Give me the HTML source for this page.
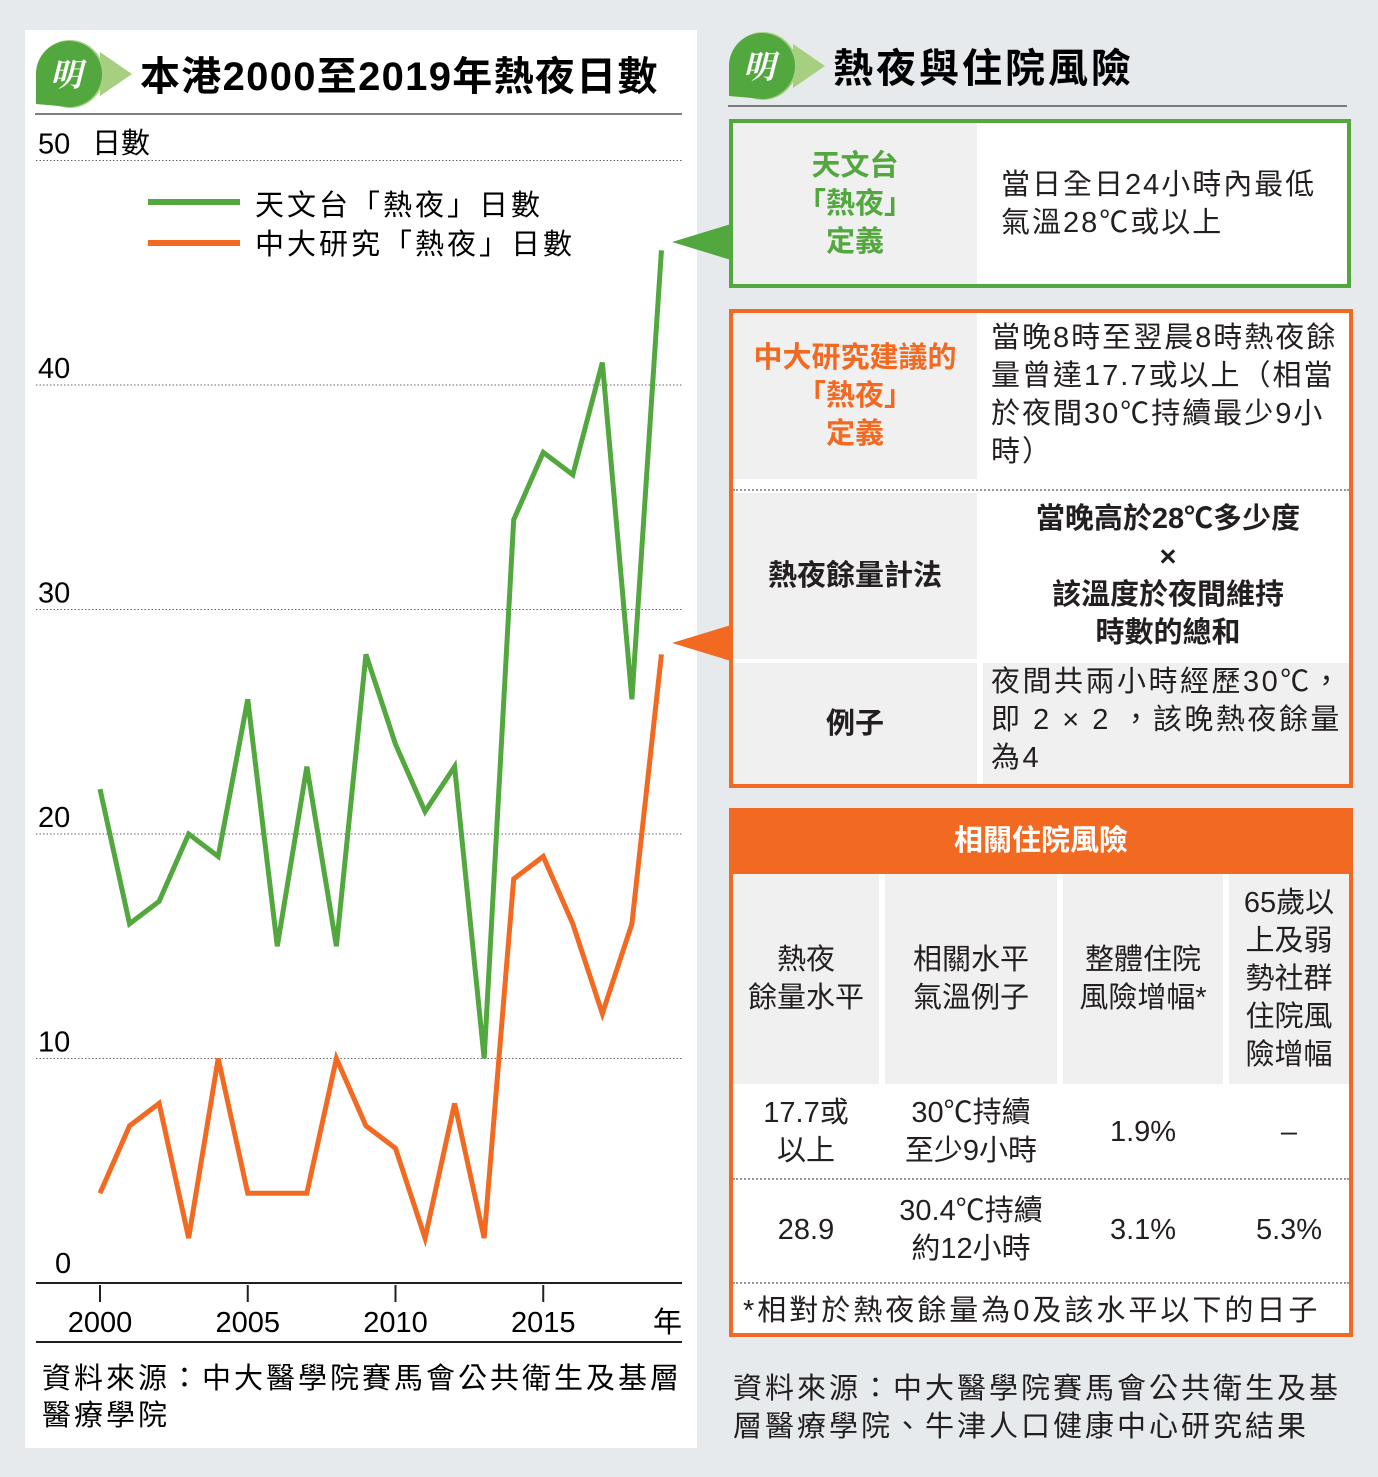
<!DOCTYPE html>
<html><head><meta charset="utf-8"><style>
body{margin:0;width:1378px;height:1477px;background:#e6eaed;font-family:"Liberation Sans","Noto Sans CJK TC",sans-serif;position:relative;overflow:hidden;color:#231f20}
.abs{position:absolute}
.c{display:flex;align-items:center;justify-content:center;text-align:center;position:absolute;box-sizing:border-box}
.t{font-size:29px;line-height:38px}
.b{font-weight:bold}
</style></head><body>
<div class="abs" style="left:25px;top:30px;width:672px;height:1418px;background:#fff"></div>
<svg class="abs" style="left:0;top:0" width="1378" height="1477">
 <g>
  <path d="M100,52 L132,74 L100,96Z" fill="#a6d07f"/>
  <circle cx="70" cy="74" r="34" fill="#a6d07f"/>
  <path d="M36,74 A33,33 0 1 1 70,107 L36,104Z" fill="#52a83e"/>
  <text x="66" y="86" font-size="32" fill="#fff" font-weight="bold" text-anchor="middle" font-family="Noto Serif CJK SC,serif" font-style="italic">明</text>
 </g>
 <g>
  <path d="M793,44 L825,66 L793,88Z" fill="#a6d07f"/>
  <circle cx="763" cy="66" r="34" fill="#a6d07f"/>
  <path d="M729,66 A33,33 0 1 1 763,99 L729,96Z" fill="#52a83e"/>
  <text x="759" y="78" font-size="32" fill="#fff" font-weight="bold" text-anchor="middle" font-family="Noto Serif CJK SC,serif" font-style="italic">明</text>
 </g>
 <text x="140" y="90" font-size="40" font-weight="bold" letter-spacing="1.3">本港2000至2019年熱夜日數</text>
 <text x="833" y="82" font-size="40" font-weight="bold" letter-spacing="3">熱夜與住院風險</text>
 <line x1="35" y1="114" x2="682" y2="114" stroke="#555" stroke-width="1.5"/>
 <line x1="728" y1="106" x2="1347" y2="106" stroke="#555" stroke-width="1.5"/>
 <g id="grid"></g><g id="series"></g>
 <line x1="36" y1="1283" x2="682" y2="1283" stroke="#231f20" stroke-width="2"/>
 <line x1="36" y1="1342" x2="682" y2="1342" stroke="#231f20" stroke-width="2"/>
 <text x="653" y="1332" font-size="29">年</text>
 <text x="92" y="153" font-size="29">日數</text>
 <line x1="148" y1="202" x2="240" y2="202" stroke="#52a83e" stroke-width="6"/>
 <text x="255" y="215" font-size="29" letter-spacing="3">天文台「熱夜」日數</text>
 <line x1="148" y1="243" x2="240" y2="243" stroke="#f26a21" stroke-width="6"/>
 <text x="255" y="254" font-size="29" letter-spacing="3">中大研究「熱夜」日數</text>
 <text x="42" y="1388" font-size="29" letter-spacing="3">資料來源：中大醫學院賽馬會公共衛生及基層</text>
 <text x="42" y="1425" font-size="29" letter-spacing="3">醫療學院</text>
 <path d="M672,242 L731,224 L731,260Z" fill="#52a83e"/>
 <path d="M672,643 L731,625 L731,661Z" fill="#f26a21"/>
</svg>

<div class="abs" style="left:729px;top:119px;width:622px;height:169px;border:4px solid #52a83e;box-sizing:border-box;background:#fff">
 <div class="c t b" style="left:0;top:0;width:244px;height:161px;background:#f0f0f0;color:#52a83e">天文台<br>「熱夜」<br>定義</div>
 <div class="c t" style="left:254px;top:0;width:360px;height:161px;text-align:left;justify-content:flex-start;padding-left:14px;letter-spacing:2px">當日全日24小時內最低<br>氣溫28℃或以上</div>
</div>
<div class="abs" style="left:729px;top:309px;width:624px;height:479px;border:4px solid #f26a21;box-sizing:border-box;background:#fff">
 <div class="c t b" style="left:0;top:0;width:244px;height:166px;background:#f0f0f0;color:#f26a21">中大研究建議的<br>「熱夜」<br>定義</div>
 <div class="abs t" style="left:258px;top:6px;width:356px;letter-spacing:2px">當晚8時至翌晨8時熱夜餘量曾達17.7或以上（相當於夜間30℃持續最少9小時）</div>
 <div class="abs" style="left:0;top:176px;width:616px;border-top:2px dotted #999"></div>
 <div class="c t b" style="left:0;top:180px;width:244px;height:166px;background:#f0f0f0">熱夜餘量計法</div>
 <div class="c t b" style="left:254px;top:180px;width:362px;height:166px">當晚高於28℃多少度<br>×<br>該溫度於夜間維持<br>時數的總和</div>
 <div class="c t b" style="left:0;top:350px;width:244px;height:121px;background:#f0f0f0">例子</div>
 <div class="abs t" style="left:250px;top:350px;width:366px;height:121px;background:#f0f0f0;padding-left:8px;box-sizing:border-box;letter-spacing:2.5px">夜間共兩小時經歷30℃，即 2 × 2 ，該晚熱夜餘量為4</div>
</div>
<div class="abs" style="left:729px;top:808px;width:624px;height:529px;border:4px solid #f26a21;border-top:none;box-sizing:border-box;background:#fff">
 <div class="c t b" style="left:-4px;top:0;width:624px;height:66px;background:#f26a21;color:#fff">相關住院風險</div>
 <div class="c t" style="left:0;top:66px;width:146px;height:210px;background:#f0f0f0">熱夜<br>餘量水平</div>
 <div class="c t" style="left:152px;top:66px;width:172px;height:210px;background:#f0f0f0">相關水平<br>氣溫例子</div>
 <div class="c t" style="left:330px;top:66px;width:160px;height:210px;background:#f0f0f0">整體住院<br>風險增幅*</div>
 <div class="c t" style="left:496px;top:66px;width:120px;height:210px;background:#f0f0f0">65歲以<br>上及弱<br>勢社群<br>住院風<br>險增幅</div>
 <div class="c t" style="left:0;top:278px;width:146px;height:92px">17.7或<br>以上</div>
 <div class="c t" style="left:152px;top:278px;width:172px;height:92px">30℃持續<br>至少9小時</div>
 <div class="c t" style="left:330px;top:278px;width:160px;height:92px">1.9%</div>
 <div class="c t" style="left:496px;top:278px;width:120px;height:92px">–</div>
 <div class="abs" style="left:0;top:370px;width:616px;border-top:2px dotted #999"></div>
 <div class="c t" style="left:0;top:372px;width:146px;height:100px">28.9</div>
 <div class="c t" style="left:152px;top:372px;width:172px;height:100px">30.4℃持續<br>約12小時</div>
 <div class="c t" style="left:330px;top:372px;width:160px;height:100px">3.1%</div>
 <div class="c t" style="left:496px;top:372px;width:120px;height:100px">5.3%</div>
 <div class="abs" style="left:0;top:474px;width:616px;border-top:2px dotted #999"></div>
 <div class="abs t" style="left:10px;top:484px;letter-spacing:3px;white-space:nowrap">*相對於熱夜餘量為0及該水平以下的日子</div>
</div>
<div class="abs t" style="left:733px;top:1370px;width:625px;letter-spacing:3px">資料來源：中大醫學院賽馬會公共衛生及基層醫療學院、牛津人口健康中心研究結果</div>

<script>
const years=[2000,2001,2002,2003,2004,2005,2006,2007,2008,2009,2010,2011,2012,2013,2014,2015,2016,2017,2018,2019];
const hkoDays=[22,16,17,20,19,26,15,23,15,28,24,21,23,10,34,37,36,41,26,46];
const cuhkDays=[4,7,8,2,10,4,4,4,10,7,6,2,8,2,18,19,16,12,16,28];
const yTicks=[0,10,20,30,40,50];
const xTicks=[2000,2005,2010,2015];
const NS="http://www.w3.org/2000/svg";
const xs=y=>100+(y-2000)*29.55;
const ys=v=>1283-v*22.45;
const grid=document.getElementById('grid'),ser=document.getElementById('series');
yTicks.forEach(v=>{
 if(v>0){const l=document.createElementNS(NS,'line');
 
 
 l.setAttribute('x1',36);l.setAttribute('x2',682);l.setAttribute('y1',ys(v));l.setAttribute('y2',ys(v));
 l.setAttribute('stroke','#666');l.setAttribute('stroke-dasharray','1.5 2');grid.appendChild(l);}
 const t=document.createElementNS(NS,'text');
 
 
 t.setAttribute('x',v===0?55:38);t.setAttribute('y',ys(v)-7+(v===0?-3:0));t.setAttribute('font-size','29');t.textContent=v;grid.appendChild(t);
});
xTicks.forEach(y=>{
 const l=document.createElementNS(NS,'line');
 
 
 l.setAttribute('x1',xs(y));l.setAttribute('x2',xs(y));l.setAttribute('y1',1285);l.setAttribute('y2',1302);l.setAttribute('stroke','#231f20');l.setAttribute('stroke-width','2');grid.appendChild(l);
 const t=document.createElementNS(NS,'text');
 
 
 t.setAttribute('x',xs(y));t.setAttribute('y',1332);t.setAttribute('font-size','29');t.setAttribute('text-anchor','middle');t.textContent=y;grid.appendChild(t);
});
function line(vals,color,name){
 const p=document.createElementNS(NS,'polyline');
 
 
 p.setAttribute('points',vals.map((v,i)=>xs(years[i])+','+ys(v)).join(' '));
 p.setAttribute('fill','none');p.setAttribute('stroke',color);p.setAttribute('stroke-width','5');p.setAttribute('stroke-linejoin','miter');
 ser.appendChild(p);
}
line(cuhkDays,'#f26a21','cuhk-line');
line(hkoDays,'#52a83e','hko-line');
</script>
</body></html>
